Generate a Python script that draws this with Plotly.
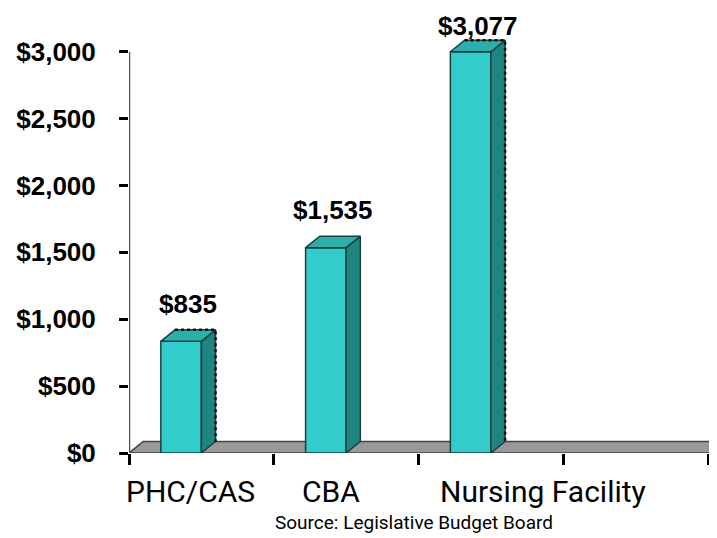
import plotly.graph_objects as go

# data
categories = ["PHC/CAS", "CBA", "Nursing Facility"]
costs = [835, 1535, 3077]
value_labels = ["$835", "$1,535", "$3,077"]
y_ticks = [0, 500, 1000, 1500, 2000, 2500, 3000]
y_tick_text = ["$0", "$500", "$1,000", "$1,500", "$2,000", "$2,500", "$3,000"]
source_note = "Source: Legislative Budget Board"

# look of the fake 3D bars
axis_max = y_ticks[-1]
y_top = 3267
bar_off, bar_w = -0.14, 0.28
depth_x, depth_y = 0.098, 86
label_gap = 194      # value units between bar top and label centre
front_col, side_col, top_col = "#33CCCC", "#1F8580", "#2BAFAA"
edge_col = "#1A3F3F"
label_pos = [-0.073, 0.898, 2.357]
cat_font = "Roboto, Liberation Sans Narrow"

fig = go.Figure()

idx = list(range(len(categories)))
shown = [min(v, axis_max) for v in costs]  # excel clips at the axis max

fig.add_trace(go.Bar(
    x=[i + bar_off for i in idx],
    y=shown,
    width=bar_w,
    marker=dict(color=front_col, line=dict(color=edge_col, width=1.5)),
    hoverinfo="skip",
))

for i, h in zip(idx, shown):
    x0 = i + bar_off - bar_w / 2
    x1 = i + bar_off + bar_w / 2
    # side face
    fig.add_trace(go.Scatter(
        x=[x1, x1 + depth_x, x1 + depth_x, x1, x1],
        y=[0, depth_y, h + depth_y, h, 0],
        fill="toself", fillcolor=side_col, mode="lines",
        line=dict(color=edge_col, width=1.5), hoverinfo="skip",
    ))
    # top face
    fig.add_trace(go.Scatter(
        x=[x0, x1, x1 + depth_x, x0 + depth_x, x0],
        y=[h, h, h + depth_y, h + depth_y, h],
        fill="toself", fillcolor=top_col, mode="lines",
        line=dict(color=edge_col, width=1.5), hoverinfo="skip",
    ))
    # dotted back edge
    if i != 1:
        fig.add_trace(go.Scatter(
            x=[x0 + depth_x, x1 + depth_x, x1 + depth_x],
            y=[h + depth_y, h + depth_y, depth_y],
            mode="lines", line=dict(color="#111111", width=2.5, dash="dot"),
            hoverinfo="skip",
        ))

# value labels (kept inside the figure)
for i, h, t in zip(idx, shown, value_labels):
    fig.add_annotation(
        x=i + bar_off + depth_x / 2, y=min(h + depth_y + label_gap, y_top - 77),
        text=t, showarrow=False, yanchor="middle",
        font=dict(family="Liberation Sans, Arial", size=26, color="black", weight="bold"),
    )

# category labels
for p, c in zip(label_pos, categories):
    fig.add_annotation(
        x=p, y=0, text=c, showarrow=False, yanchor="middle", yshift=-38,
        font=dict(family=cat_font, size=30, color="black"),
    )

fig.add_annotation(
    x=0.485, y=-0.16, xref="paper", yref="paper", text=source_note, showarrow=False,
    yanchor="middle",
    font=dict(family=cat_font, size=19, color="black"),
)

x_edges = [-0.5, 0.5, 1.5, 2.5, 3.5]

# floor
fl_r = 3.52
fig.add_shape(
    type="path", xref="x", yref="y", layer="below",
    path=f"M {x_edges[0]},0 L {fl_r},0 L {fl_r + depth_x},{depth_y} L {x_edges[0] + depth_x},{depth_y} Z",
    fillcolor="#999999", line=dict(color="#444444", width=1.5),
)
# value axis line
fig.add_shape(
    type="line", xref="x", yref="y", x0=x_edges[0], x1=x_edges[0], y0=0, y1=axis_max,
    line=dict(color="#555555", width=2.5),
)

fig.update_layout(
    width=717, height=538,
    margin=dict(l=119, r=8, t=8, b=93),
    paper_bgcolor="white", plot_bgcolor="white",
    showlegend=False,
    xaxis=dict(
        range=[-0.5, 3.562], tickvals=x_edges, showticklabels=False,
        ticks="outside", ticklen=11, tickwidth=3, tickcolor="black",
        showgrid=False, zeroline=False, showline=False, fixedrange=True,
    ),
    yaxis=dict(
        range=[0, y_top], tickvals=y_ticks, ticktext=y_tick_text,
        ticks="outside", ticklen=9, tickwidth=2.5, tickcolor="black",
        ticklabelstandoff=18,
        tickfont=dict(family="Liberation Sans, Arial", size=26, color="black", weight="bold"),
        showgrid=False, zeroline=False, showline=False, fixedrange=True,
    ),
)

fig.write_html("out.html")
